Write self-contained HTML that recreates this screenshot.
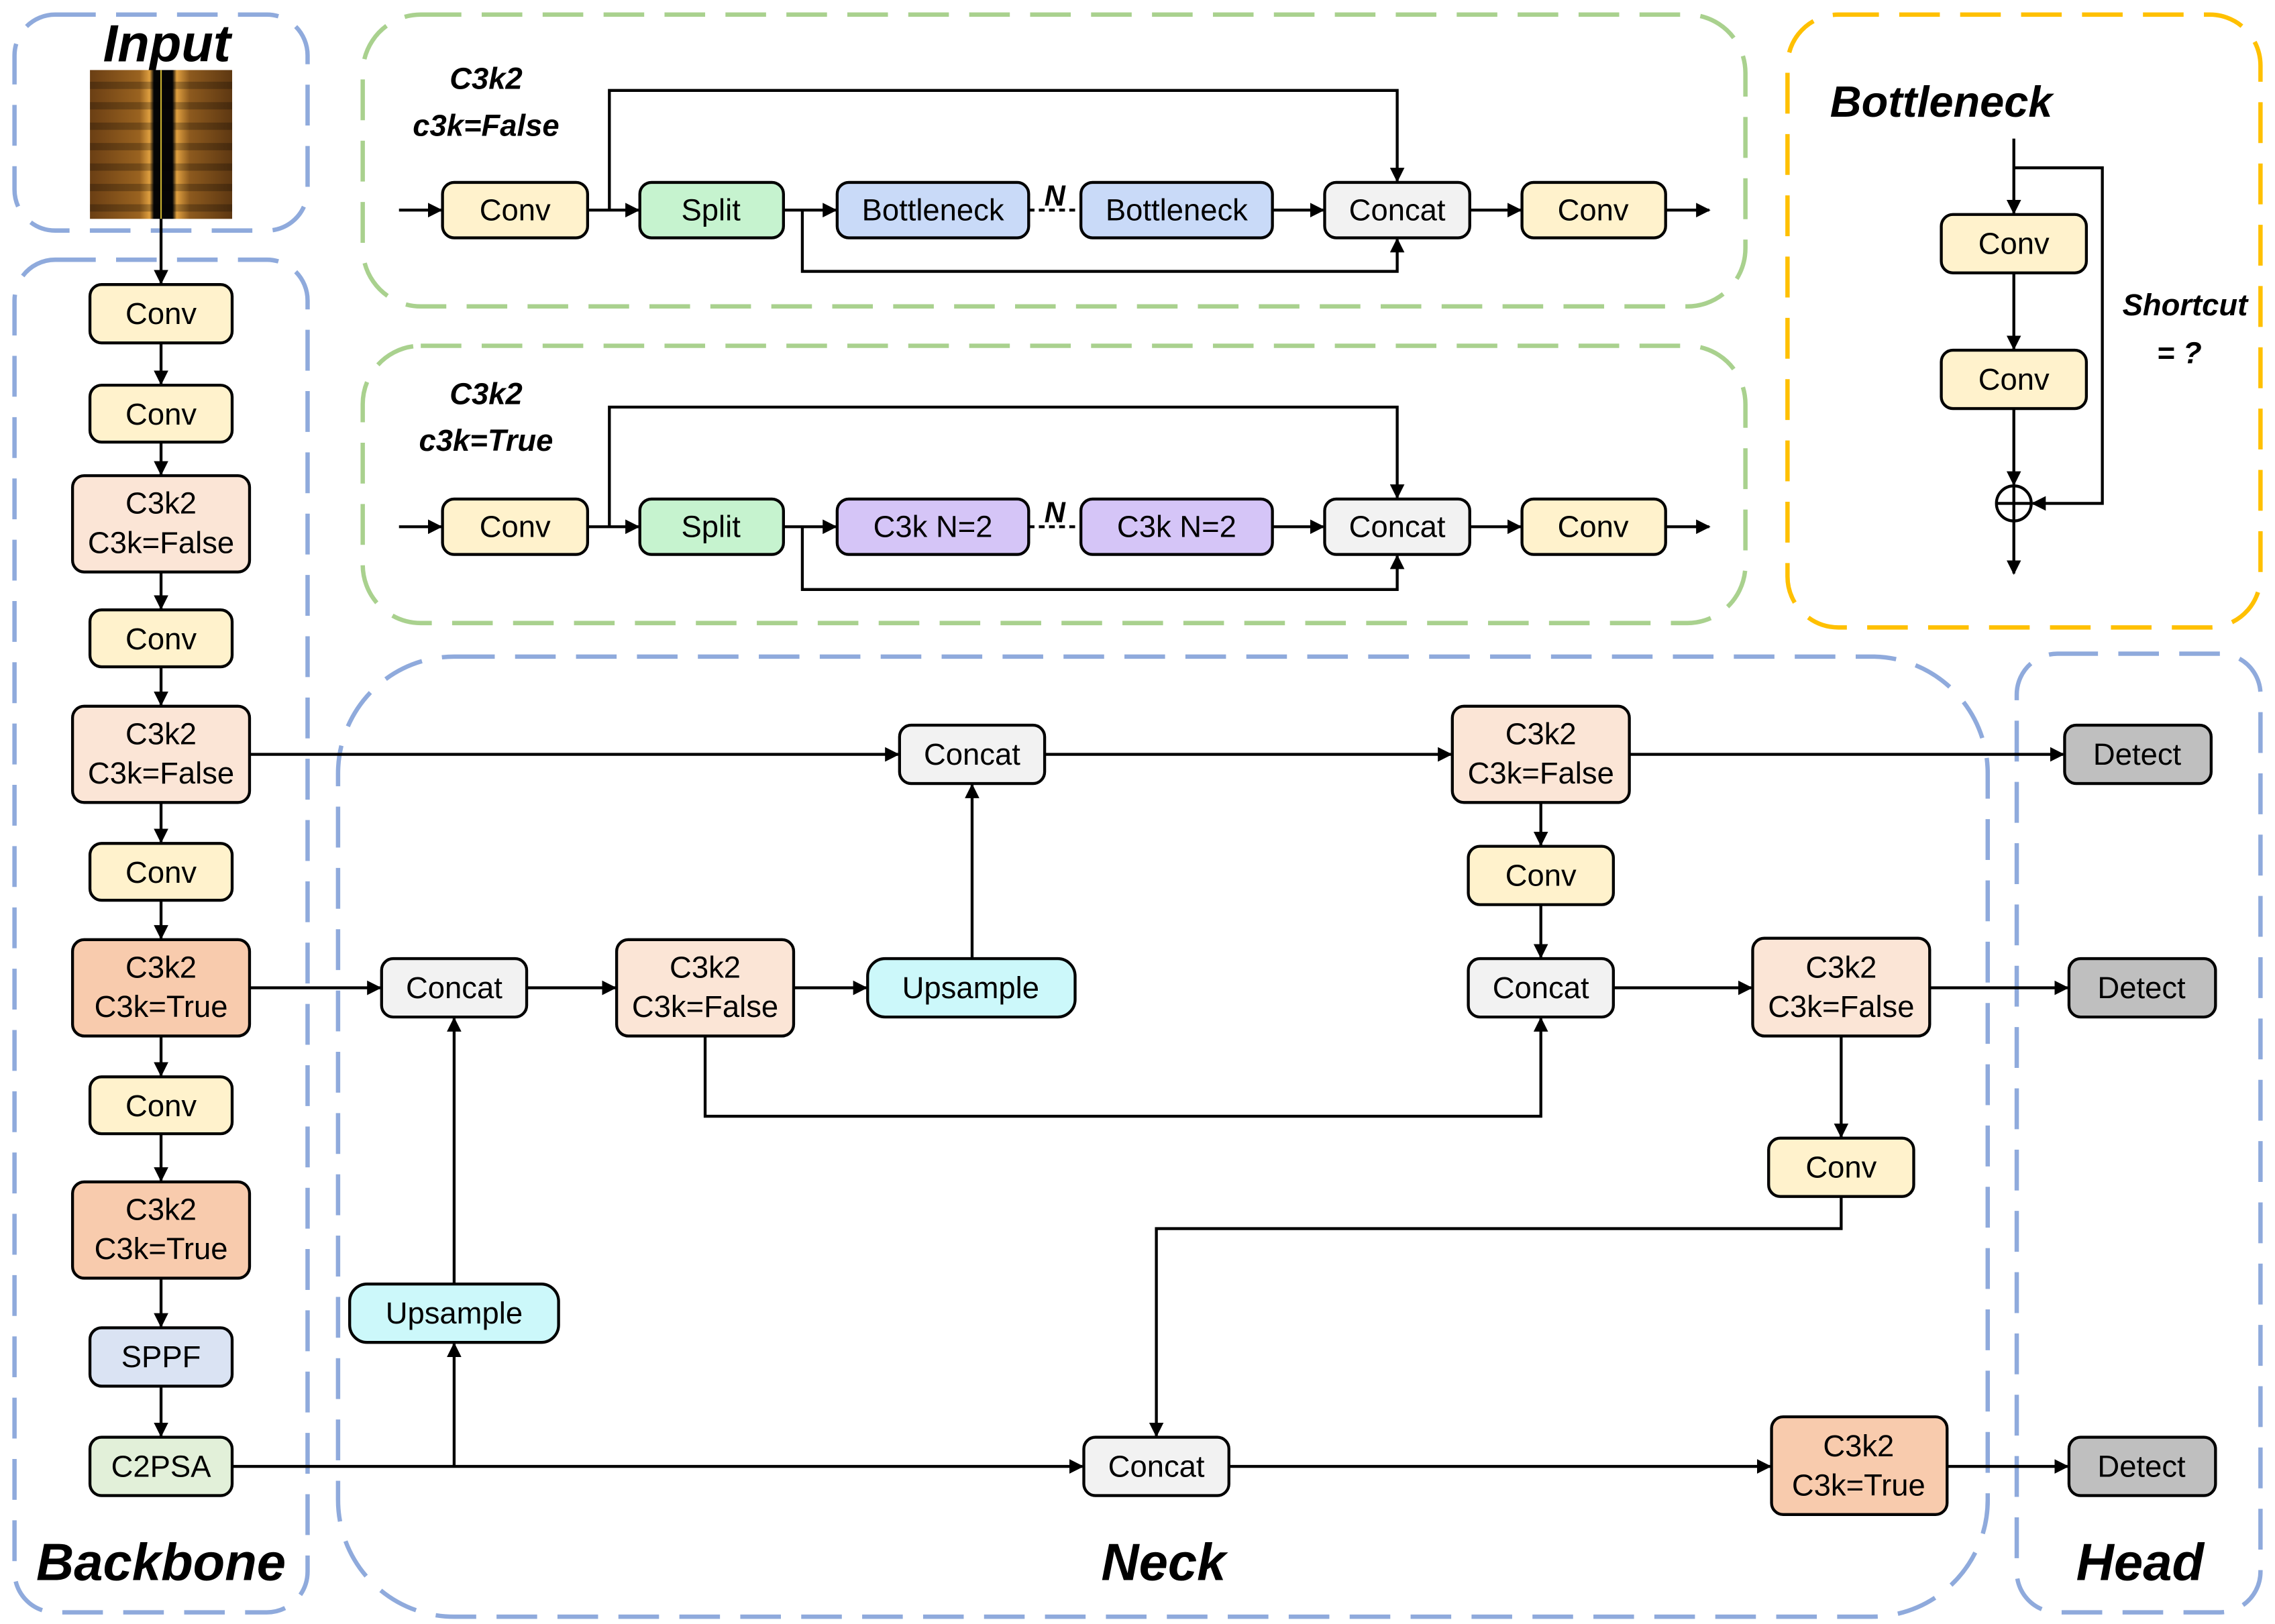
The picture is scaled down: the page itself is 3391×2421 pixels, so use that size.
<!DOCTYPE html>
<html><head><meta charset="utf-8"><style>
html,body{margin:0;padding:0;background:#fff;}
svg{display:block;}
text{font-family:"Liberation Sans",sans-serif;}
</style></head><body>
<svg xmlns="http://www.w3.org/2000/svg" width="3391" height="2421" viewBox="0 0 1568 1113" preserveAspectRatio="none">
<defs>
<marker id="a" markerWidth="10" markerHeight="10" refX="9" refY="5" orient="auto" markerUnits="userSpaceOnUse">
<path d="M0,0 L10,5 L0,10 z" fill="#000"/></marker>
<linearGradient id="img" x1="0" x2="1" y1="0" y2="0">
<stop offset="0" stop-color="#6b3f14"/><stop offset="0.35" stop-color="#9a6320"/><stop offset="0.42" stop-color="#e0a040"/>
<stop offset="0.45" stop-color="#050505"/><stop offset="0.58" stop-color="#050505"/><stop offset="0.61" stop-color="#e0a040"/>
<stop offset="0.7" stop-color="#8d5a1e"/><stop offset="1" stop-color="#5e3812"/></linearGradient>
<pattern id="stripes" width="10" height="14" patternUnits="userSpaceOnUse"><rect width="10" height="5" fill="#000" opacity="0.25"/></pattern>
</defs>
<g fill="none" stroke-width="3" stroke-dasharray="28,14">
<rect x="10" y="10" width="202" height="148" rx="28" stroke="#8faadc"/>
<rect x="10" y="178" width="202" height="927" rx="28" stroke="#8faadc"/>
<rect x="233" y="450" width="1137" height="658" rx="80" stroke="#8faadc"/>
<rect x="1390" y="448" width="168" height="657" rx="28" stroke="#8faadc"/>
<rect x="250" y="10" width="953" height="200" rx="40" stroke="#a9d18e"/>
<rect x="250" y="237" width="953" height="190" rx="40" stroke="#a9d18e"/>
<rect x="1232" y="10" width="326" height="420" rx="35" stroke="#ffc000"/>
</g>
<g font-weight="bold" font-style="italic" text-anchor="middle" fill="#000">
<text x="115" y="42" font-size="36">Input</text>
<text x="111" y="1083" font-size="36">Backbone</text>
<text x="802" y="1083" font-size="36">Neck</text>
<text x="1475" y="1083" font-size="36">Head</text>
<text x="1338" y="80" font-size="30">Bottleneck</text>
<text x="335" y="61" font-size="21">C3k2</text>
<text x="335" y="93" font-size="21">c3k=False</text>
<text x="335" y="277" font-size="21">C3k2</text>
<text x="335" y="309" font-size="21">c3k=True</text>
<text x="1506" y="216" font-size="21">Shortcut</text>
<text x="1502" y="249" font-size="21">= ?</text>
<text x="727" y="141" font-size="20">N</text>
<text x="727" y="358" font-size="20">N</text>
</g>
<rect x="62" y="48" width="98" height="102" fill="url(#img)"/>
<rect x="62" y="48" width="98" height="102" fill="url(#stripes)"/>
<line x1="111" y1="48" x2="111" y2="150" stroke="#c8b030" stroke-width="1"/>
<g stroke="#000" stroke-width="2" fill="none" marker-end="url(#a)">
<line x1="111" y1="150" x2="111" y2="194"/>
<line x1="111" y1="235" x2="111" y2="263"/>
<line x1="111" y1="303" x2="111" y2="325"/>
<line x1="111" y1="392" x2="111" y2="417"/>
<line x1="111" y1="457" x2="111" y2="483"/>
<line x1="111" y1="550" x2="111" y2="577"/>
<line x1="111" y1="617" x2="111" y2="643"/>
<line x1="111" y1="710" x2="111" y2="737"/>
<line x1="111" y1="777" x2="111" y2="809"/>
<line x1="111" y1="876" x2="111" y2="909"/>
<line x1="111" y1="950" x2="111" y2="984"/>
<!-- top box 1 -->
<line x1="275" y1="144" x2="304" y2="144"/>
<line x1="405" y1="144" x2="440" y2="144"/>
<line x1="540" y1="144" x2="576" y2="144"/>
<line x1="877" y1="144" x2="912" y2="144"/>
<line x1="1013" y1="144" x2="1048" y2="144"/>
<line x1="1148" y1="144" x2="1178" y2="144"/>
<polyline points="420,144 420,62 963,62 963,124"/>
<polyline points="553,144 553,186 963,186 963,164"/>
<!-- top box 2 -->
<line x1="275" y1="361" x2="304" y2="361"/>
<line x1="405" y1="361" x2="440" y2="361"/>
<line x1="540" y1="361" x2="576" y2="361"/>
<line x1="877" y1="361" x2="912" y2="361"/>
<line x1="1013" y1="361" x2="1048" y2="361"/>
<line x1="1148" y1="361" x2="1178" y2="361"/>
<polyline points="420,361 420,279 963,279 963,341"/>
<polyline points="553,361 553,404 963,404 963,381"/>
<!-- bottleneck -->
<line x1="1388" y1="95" x2="1388" y2="146"/>
<line x1="1388" y1="187" x2="1388" y2="239"/>
<line x1="1388" y1="280" x2="1388" y2="332"/>
<polyline points="1388,115 1449,115 1449,345 1401,345"/>
<line x1="1388" y1="357" x2="1388" y2="393"/>
<!-- neck -->
<line x1="172" y1="517" x2="619" y2="517"/>
<line x1="720" y1="517" x2="1000" y2="517"/>
<line x1="1123" y1="517" x2="1422" y2="517"/>
<line x1="1062" y1="550" x2="1062" y2="579"/>
<line x1="1062" y1="620" x2="1062" y2="656"/>
<line x1="172" y1="677" x2="262" y2="677"/>
<line x1="363" y1="677" x2="424" y2="677"/>
<line x1="547" y1="677" x2="597" y2="677"/>
<line x1="670" y1="657" x2="670" y2="538"/>
<polyline points="486,710 486,765 1062,765 1062,698"/>
<line x1="1112" y1="677" x2="1207" y2="677"/>
<line x1="1330" y1="677" x2="1425" y2="677"/>
<line x1="1269" y1="710" x2="1269" y2="779"/>
<polyline points="1269,820 1269,842 797,842 797,984"/>
<line x1="160" y1="1005" x2="746" y2="1005"/>
<line x1="313" y1="1005" x2="313" y2="921"/>
<line x1="313" y1="880" x2="313" y2="698"/>
<line x1="847" y1="1005" x2="1220" y2="1005"/>
<line x1="1342" y1="1005" x2="1425" y2="1005"/>
</g>
<g stroke="#000" stroke-width="2">
<line x1="709" y1="144" x2="745" y2="144" stroke-dasharray="4,3"/>
<line x1="709" y1="361" x2="745" y2="361" stroke-dasharray="4,3"/>
<circle cx="1388" cy="345" r="12" fill="#fff"/>
<line x1="1376" y1="345" x2="1400" y2="345"/><line x1="1388" y1="333" x2="1388" y2="357"/>
</g>
<g stroke="#000" stroke-width="2" font-size="21" text-anchor="middle">
<!-- helper: nodes -->
<rect x="62" y="195" width="98" height="40" rx="8" fill="#fff2cc"/>
<rect x="62" y="264" width="98" height="39" rx="8" fill="#fff2cc"/>
<rect x="50" y="326" width="122" height="66" rx="8" fill="#fbe5d6"/>
<rect x="62" y="418" width="98" height="39" rx="8" fill="#fff2cc"/>
<rect x="50" y="484" width="122" height="66" rx="8" fill="#fbe5d6"/>
<rect x="62" y="578" width="98" height="39" rx="8" fill="#fff2cc"/>
<rect x="50" y="644" width="122" height="66" rx="8" fill="#f8cbad"/>
<rect x="62" y="738" width="98" height="39" rx="8" fill="#fff2cc"/>
<rect x="50" y="810" width="122" height="66" rx="8" fill="#f8cbad"/>
<rect x="62" y="910" width="98" height="40" rx="8" fill="#dae3f3"/>
<rect x="62" y="985" width="98" height="40" rx="8" fill="#e2f0d9"/>
<rect x="305" y="125" width="100" height="38" rx="8" fill="#fff2cc"/>
<rect x="441" y="125" width="99" height="38" rx="8" fill="#c6f3cf"/>
<rect x="577" y="125" width="132" height="38" rx="8" fill="#c9daf8"/>
<rect x="745" y="125" width="132" height="38" rx="8" fill="#c9daf8"/>
<rect x="913" y="125" width="100" height="38" rx="8" fill="#f2f2f2"/>
<rect x="1049" y="125" width="99" height="38" rx="8" fill="#fff2cc"/>
<rect x="305" y="342" width="100" height="38" rx="8" fill="#fff2cc"/>
<rect x="441" y="342" width="99" height="38" rx="8" fill="#c6f3cf"/>
<rect x="577" y="342" width="132" height="38" rx="8" fill="#d5c5f7"/>
<rect x="745" y="342" width="132" height="38" rx="8" fill="#d5c5f7"/>
<rect x="913" y="342" width="100" height="38" rx="8" fill="#f2f2f2"/>
<rect x="1049" y="342" width="99" height="38" rx="8" fill="#fff2cc"/>
<rect x="1338" y="147" width="100" height="40" rx="8" fill="#fff2cc"/>
<rect x="1338" y="240" width="100" height="40" rx="8" fill="#fff2cc"/>
<rect x="620" y="497" width="100" height="40" rx="8" fill="#f2f2f2"/>
<rect x="1001" y="484" width="122" height="66" rx="8" fill="#fbe5d6"/>
<rect x="1423" y="497" width="101" height="40" rx="8" fill="#bfbfbf"/>
<rect x="1012" y="580" width="100" height="40" rx="8" fill="#fff2cc"/>
<rect x="1012" y="657" width="100" height="40" rx="8" fill="#f2f2f2"/>
<rect x="263" y="657" width="100" height="40" rx="8" fill="#f2f2f2"/>
<rect x="425" y="644" width="122" height="66" rx="8" fill="#fbe5d6"/>
<rect x="598" y="657" width="143" height="40" rx="12" fill="#ccf8fa"/>
<rect x="1208" y="643" width="122" height="67" rx="8" fill="#fbe5d6"/>
<rect x="1426" y="657" width="101" height="40" rx="8" fill="#bfbfbf"/>
<rect x="1219" y="780" width="100" height="40" rx="8" fill="#fff2cc"/>
<rect x="241" y="880" width="144" height="40" rx="12" fill="#ccf8fa"/>
<rect x="747" y="985" width="100" height="40" rx="8" fill="#f2f2f2"/>
<rect x="1221" y="971" width="121" height="67" rx="8" fill="#f8cbad"/>
<rect x="1426" y="985" width="101" height="40" rx="8" fill="#bfbfbf"/>
</g>
<g font-size="21" text-anchor="middle" fill="#000">
<text x="111" y="222">Conv</text>
<text x="111" y="291">Conv</text>
<text x="111" y="352">C3k2</text><text x="111" y="379">C3k=False</text>
<text x="111" y="445">Conv</text>
<text x="111" y="510">C3k2</text><text x="111" y="537">C3k=False</text>
<text x="111" y="605">Conv</text>
<text x="111" y="670">C3k2</text><text x="111" y="697">C3k=True</text>
<text x="111" y="765">Conv</text>
<text x="111" y="836">C3k2</text><text x="111" y="863">C3k=True</text>
<text x="111" y="937">SPPF</text>
<text x="111" y="1012">C2PSA</text>
<text x="355" y="151">Conv</text>
<text x="490" y="151">Split</text>
<text x="643" y="151">Bottleneck</text>
<text x="811" y="151">Bottleneck</text>
<text x="963" y="151">Concat</text>
<text x="1098" y="151">Conv</text>
<text x="355" y="368">Conv</text>
<text x="490" y="368">Split</text>
<text x="643" y="368">C3k N=2</text>
<text x="811" y="368">C3k N=2</text>
<text x="963" y="368">Concat</text>
<text x="1098" y="368">Conv</text>
<text x="1388" y="174">Conv</text>
<text x="1388" y="267">Conv</text>
<text x="670" y="524">Concat</text>
<text x="1062" y="510">C3k2</text><text x="1062" y="537">C3k=False</text>
<text x="1473" y="524">Detect</text>
<text x="1062" y="607">Conv</text>
<text x="1062" y="684">Concat</text>
<text x="313" y="684">Concat</text>
<text x="486" y="670">C3k2</text><text x="486" y="697">C3k=False</text>
<text x="669" y="684">Upsample</text>
<text x="1269" y="670">C3k2</text><text x="1269" y="697">C3k=False</text>
<text x="1476" y="684">Detect</text>
<text x="1269" y="807">Conv</text>
<text x="313" y="907">Upsample</text>
<text x="797" y="1012">Concat</text>
<text x="1281" y="998">C3k2</text><text x="1281" y="1025">C3k=True</text>
<text x="1476" y="1012">Detect</text>
</g>
</svg>
</body></html>
